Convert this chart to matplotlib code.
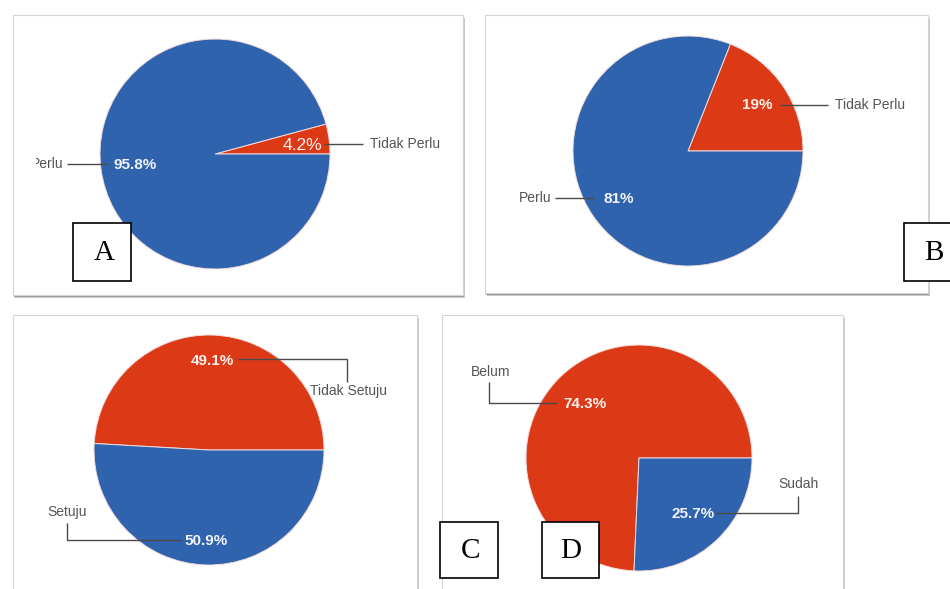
import matplotlib
matplotlib.use("Agg")
import matplotlib.pyplot as plt
from matplotlib.patches import Rectangle
from matplotlib.transforms import Bbox, TransformedBbox

# data
labels_a = ["Tidak Perlu", "Perlu"]
values_a = [4.2, 95.8]
labels_b = ["Tidak Perlu", "Perlu"]
values_b = [19, 81]
labels_c = ["Tidak Setuju", "Setuju"]
values_c = [49.1, 50.9]
labels_d = ["Belum", "Sudah"]
values_d = [74.3, 25.7]

RED = "#dc3a17"
BLUE = "#2f63ae"
LINE = "#4a4a4a"
NAME = "#555555"
SANS = "Liberation Sans"
SERIF = "Liberation Serif"


def pct(v):
    return f"{v:g}%"


def panel(ax, x0, y0, x1, y1):
    ax.add_patch(Rectangle((x0 + 2, y0 + 3), x1 - x0, y1 - y0, fc="#c8c8c8", ec="none", zorder=0))
    ax.add_patch(Rectangle((x0 + 1, y0 + 1.5), x1 - x0, y1 - y0, fc="#9a9a9a", ec="none", zorder=0.2))
    ax.add_patch(Rectangle((x0, y0), x1 - x0, y1 - y0, fc="white", ec="#d4d4d4", lw=0.8, zorder=0.5))


def pie(ax, values, center, r):
    ax.pie(values, colors=[RED, BLUE], startangle=0, counterclock=False,
           center=center, radius=r,
           wedgeprops=dict(edgecolor="#f1dcdc", linewidth=0.7, zorder=2))


def leader(ax, xs, ys):
    ax.plot(xs, ys, color=LINE, lw=1.0, zorder=4, solid_capstyle="butt")


def name(ax, x, y, s, ha="left"):
    return ax.text(x, y, s, ha=ha, va="center", fontsize=10, color=NAME,
                   family=SANS, zorder=5)


def value(ax, x, y, s, ha="left", size=11, weight="bold"):
    ax.text(x, y, s, ha=ha, va="center", fontsize=size, color="white",
            fontweight=weight, family=SANS, zorder=5, alpha=0.93)


def letter_box(ax, x, y, w, h, s, tx, ty):
    ax.add_patch(Rectangle((x, y), w, h, fc="white", ec="black", lw=1.2, zorder=6))
    ax.text(tx, ty, s, ha="center", va="center", fontsize=21, family=SERIF,
            color="black", zorder=7)


fig = plt.figure(figsize=(9.5, 5.89), dpi=100)
ax = fig.add_axes([0, 0, 1, 1])

# panels
panel(ax, 13, 15, 463, 295)
panel(ax, 485, 15, 928, 293)
panel(ax, 13, 315, 417, 600)
panel(ax, 442, 315, 843, 600)

# A
pie(ax, values_a, (215, 154), 115)
value(ax, 302, 145, pct(values_a[0]), ha="center", size=12.5, weight="normal")
leader(ax, [324, 363], [144, 144])
name(ax, 370, 144, labels_a[0])
# the original screenshot cut off the "P" of this label
t = name(ax, 64, 164, labels_a[1], ha="right")
t.set_clip_on(True)
t.set_clip_box(TransformedBbox(Bbox([[36, 0], [470, 589]]), ax.transData))
leader(ax, [67, 108], [164, 164])
value(ax, 114, 165, pct(values_a[1]))

# B
pie(ax, values_b, (688, 151), 115)
value(ax, 757, 105, pct(values_b[0]), ha="center")
leader(ax, [780, 828], [105, 105])
name(ax, 835, 105, labels_b[0])
name(ax, 551, 198, labels_b[1], ha="right")
leader(ax, [555, 594], [198, 198])
value(ax, 603, 199, pct(values_b[1]))

# C
pie(ax, values_c, (209, 450), 115)
value(ax, 212, 361, pct(values_c[0]), ha="center")
leader(ax, [238, 347, 347], [359, 359, 382])
name(ax, 310, 391, labels_c[0])
name(ax, 67, 512, labels_c[1], ha="center")
leader(ax, [67, 67, 182], [523, 540, 540])
value(ax, 184, 541, pct(values_c[1]))

# D
pie(ax, values_d, (639, 458), 113)
name(ax, 491, 372, labels_d[0], ha="center")
leader(ax, [489, 489, 557], [382, 403, 403])
value(ax, 563, 404, pct(values_d[0]))
name(ax, 798, 484, labels_d[1], ha="center")
leader(ax, [798, 798, 716], [496, 513, 513])
value(ax, 672, 514, pct(values_d[1]))

# letter boxes
letter_box(ax, 73, 223, 58, 58, "A", 104, 253)
letter_box(ax, 904, 223, 60, 58, "B", 934, 253)
letter_box(ax, 440, 522, 58, 56, "C", 470, 551)
letter_box(ax, 542, 522, 57, 56, "D", 571, 551)

ax.set_xlim(0, 950)
ax.set_ylim(589, 0)
ax.set_aspect("auto")
ax.axis("off")

fig.savefig("out.png", dpi=100, facecolor="white")
